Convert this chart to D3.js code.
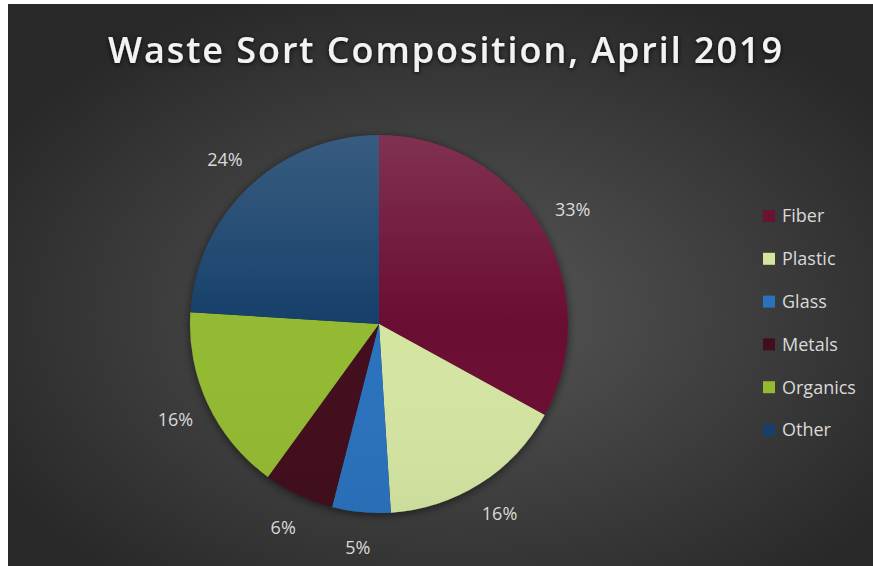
<!DOCTYPE html>
<html>
<head>
<meta charset="utf-8">
<script src="https://cdn.jsdelivr.net/npm/d3@7"></script>
<style>
  html, body { margin: 0; padding: 0; background: #ffffff; }
  svg { display: block; }
</style>
</head>
<body>
<div id="chart"></div>
<script>
// Waste sort composition by material, April 2019 (percent of total)
const categories = ["Fiber", "Plastic", "Glass", "Metals", "Organics", "Other"];
const shares = [33, 16, 5, 6, 16, 24];
const sliceColors = ["#6b1131", "#d4e5a2", "#2a72bd", "#430d1d", "#93ba30", "#163f6b"];
const titleText = "Waste Sort Composition, April 2019";

const W = 873, H = 566;
const cx = 379, cy = 324, R = 189;

const svg = d3.select("#chart").append("svg")
  .attr("width", W).attr("height", H);

const defs = svg.append("defs");

// Dark backdrop, brightest toward the middle
const bg = defs.append("radialGradient").attr("id", "bgGrad")
  .attr("cx", "52%").attr("cy", "55%").attr("r", "62%");
bg.append("stop").attr("offset", "0%").attr("stop-color", "#575757");
bg.append("stop").attr("offset", "100%").attr("stop-color", "#282828");

// Soft sheen on the upper half of the pie
const sheen = defs.append("linearGradient").attr("id", "sheen")
  .attr("gradientUnits", "userSpaceOnUse")
  .attr("x1", 0).attr("y1", cy - R).attr("x2", 0).attr("y2", cy + R);
sheen.append("stop").attr("offset", "0%").attr("stop-color", "#ffffff").attr("stop-opacity", 0.15);
sheen.append("stop").attr("offset", "50%").attr("stop-color", "#ffffff").attr("stop-opacity", 0);
sheen.append("stop").attr("offset", "100%").attr("stop-color", "#000000").attr("stop-opacity", 0.04);

const shadow = defs.append("filter").attr("id", "pieShadow")
  .attr("x", "-20%").attr("y", "-20%").attr("width", "140%").attr("height", "140%");
shadow.append("feDropShadow").attr("dx", 0).attr("dy", 2).attr("stdDeviation", 5)
  .attr("flood-color", "#000").attr("flood-opacity", 0.55);

const titleShadow = defs.append("filter").attr("id", "titleShadow")
  .attr("x", "-10%").attr("y", "-40%").attr("width", "120%").attr("height", "180%");
titleShadow.append("feDropShadow").attr("dx", 0).attr("dy", 1).attr("stdDeviation", 2.5)
  .attr("flood-color", "#000").attr("flood-opacity", 0.85);

svg.append("rect")
  .attr("x", 8).attr("y", 4).attr("width", W - 8).attr("height", H - 4)
  .attr("fill", "url(#bgGrad)");

// Title
svg.append("text")
  .attr("x", 108).attr("y", 63)
  .attr("textLength", 674).attr("lengthAdjust", "spacing")
  .attr("font-family", "'Open Sans', sans-serif")
  .attr("font-weight", 600)
  .attr("font-size", 36)
  .attr("fill", "#f2f2f2")
  .attr("filter", "url(#titleShadow)")
  .text(titleText);

// Pie
const color = d3.scaleOrdinal().domain(categories).range(sliceColors);
const pie = d3.pie().sort(null).value(d => d.value);
const data = categories.map((c, i) => ({ name: c, value: shares[i] }));
const arcs = pie(data);
const arc = d3.arc().innerRadius(0).outerRadius(R);
const labelArc = d3.arc().innerRadius(225).outerRadius(225);

const g = svg.append("g").attr("transform", `translate(${cx},${cy})`);

const slices = g.append("g").attr("filter", "url(#pieShadow)");
slices.selectAll("path.slice")
  .data(arcs)
  .join("path")
  .attr("class", "slice")
  .attr("d", arc)
  .attr("fill", d => color(d.data.name));

// Sheen overlay (gradient in page coordinates)
svg.append("circle")
  .attr("cx", cx).attr("cy", cy).attr("r", R)
  .attr("fill", "url(#sheen)")
  .attr("pointer-events", "none");

const total = d3.sum(shares);
g.selectAll("text.pct")
  .data(arcs)
  .join("text")
  .attr("class", "pct")
  .attr("transform", d => `translate(${labelArc.centroid(d)})`)
  .attr("text-anchor", "middle")
  .attr("dy", "0.36em")
  .attr("font-family", "'Open Sans', sans-serif")
  .attr("font-size", 18)
  .attr("fill", "#d9d9d9")
  .text(d => Math.round(d.data.value / total * 100) + "%");

// Legend
const legY = d3.scalePoint().domain(categories).range([216, 430]);
const leg = svg.append("g");
const items = leg.selectAll("g.item")
  .data(categories)
  .join("g")
  .attr("class", "item")
  .attr("transform", d => `translate(763,${legY(d)})`);
items.append("rect")
  .attr("x", 0).attr("y", -6)
  .attr("width", 12).attr("height", 12)
  .attr("fill", d => color(d));
items.append("text")
  .attr("x", 19).attr("y", 0).attr("dy", "0.35em")
  .attr("font-family", "'Open Sans', sans-serif")
  .attr("font-size", 18)
  .attr("fill", "#d9d9d9")
  .text(d => d);
</script>
</body>
</html>
